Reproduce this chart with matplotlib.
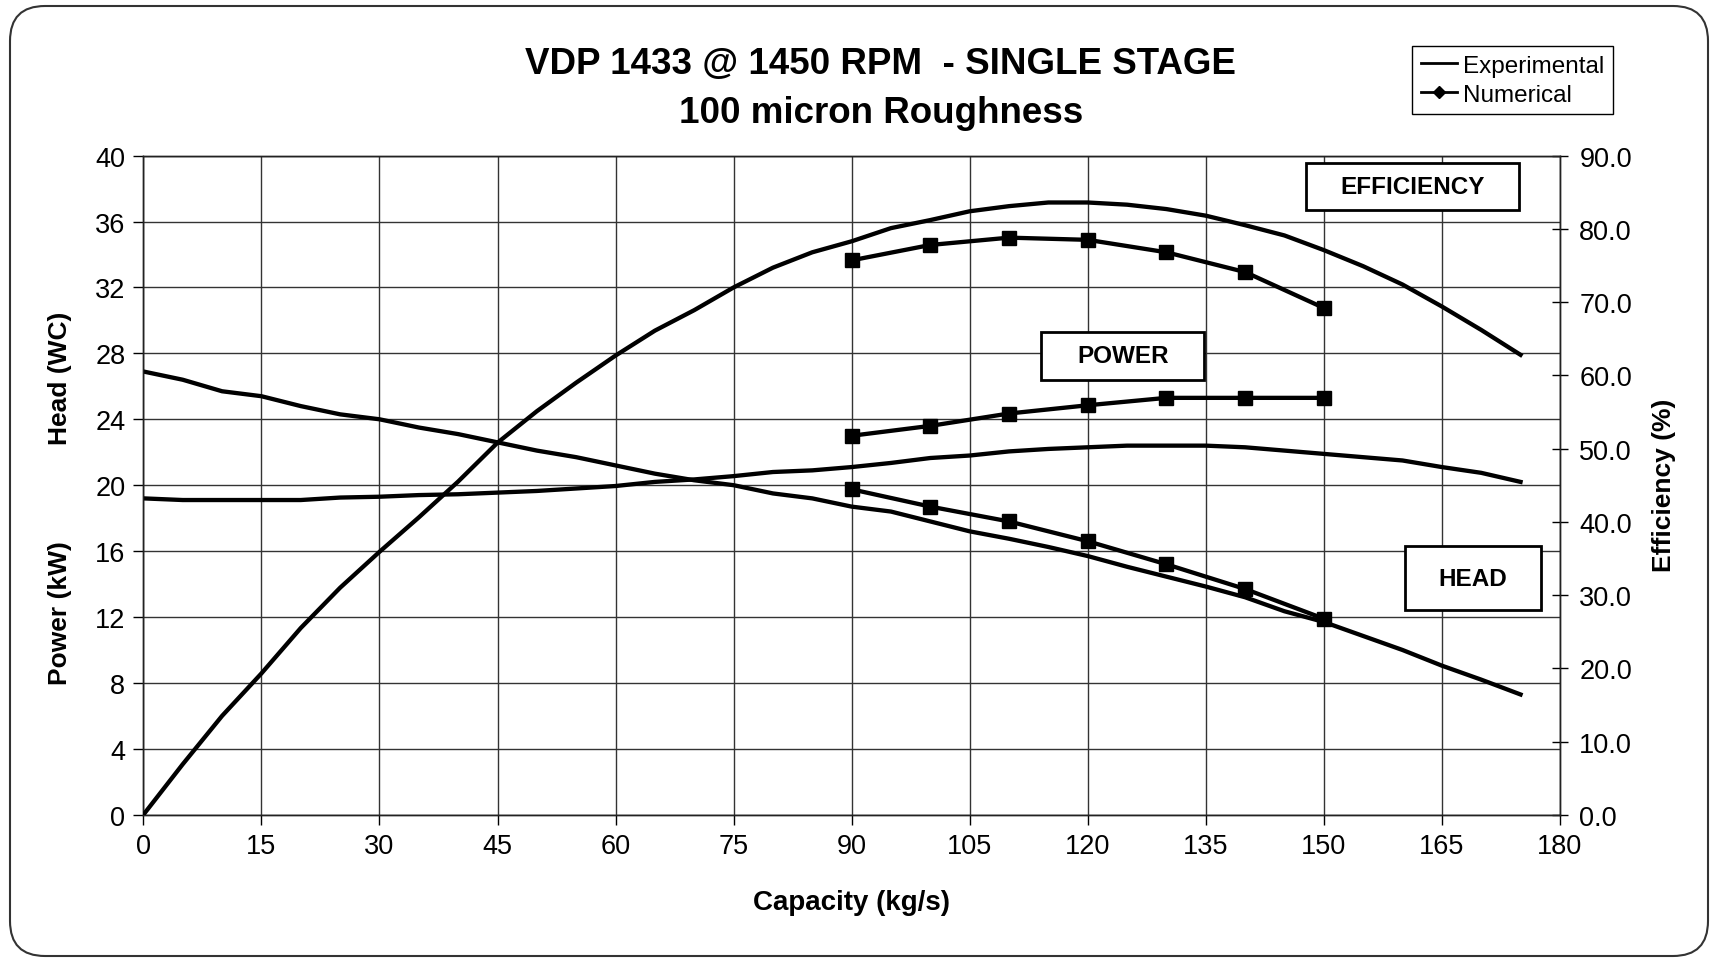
import numpy as np
import matplotlib
matplotlib.use("Agg")
import matplotlib.pyplot as plt
from matplotlib.lines import Line2D
from matplotlib.patches import Rectangle, FancyBboxPatch
from matplotlib.transforms import IdentityTransform

plt.rcParams['font.family'] = ['Liberation Sans', 'DejaVu Sans']

# === DATA ===
cap_exp = [0, 5, 10, 15, 20, 25, 30, 35, 40, 45, 50, 55, 60, 65, 70, 75, 80, 85,
           90, 95, 100, 105, 110, 115, 120, 125, 130, 135, 140, 145, 150, 155,
           160, 165, 170, 175]
head_exp = [26.9, 26.4, 25.7, 25.4, 24.8, 24.3, 24.0, 23.5, 23.1, 22.6, 22.1, 21.7,
            21.2, 20.7, 20.3, 20.0, 19.5, 19.2, 18.7, 18.4, 17.8, 17.2, 16.75, 16.25,
            15.7, 15.05, 14.45, 13.85, 13.2, 12.35, 11.7, 10.85, 10.0, 9.05, 8.2, 7.3]
power_exp = [19.2, 19.1, 19.1, 19.1, 19.1, 19.25, 19.3, 19.4, 19.45, 19.55, 19.65,
             19.8, 19.95, 20.2, 20.35, 20.55, 20.8, 20.9, 21.1, 21.35, 21.65, 21.8,
             22.05, 22.2, 22.3, 22.4, 22.4, 22.4, 22.3, 22.1, 21.9, 21.7, 21.5, 21.1,
             20.75, 20.2]
eff_exp = [0, 6.9, 13.5, 19.3, 25.5, 31.0, 35.9, 40.6, 45.5, 50.8, 55.1, 59.0, 62.7,
           66.1, 68.9, 72.0, 74.7, 76.8, 78.3, 80.1, 81.2, 82.4, 83.1, 83.6, 83.6,
           83.3, 82.7, 81.8, 80.5, 79.1, 77.1, 74.9, 72.4, 69.4, 66.2, 62.8]

cap_num = [90, 100, 110, 120, 130, 140, 150]
head_num = [19.75, 18.7, 17.8, 16.6, 15.2, 13.7, 11.9]
power_num = [23.0, 23.6, 24.35, 24.85, 25.3, 25.3, 25.3]
eff_num = [75.7, 77.8, 78.8, 78.5, 76.8, 74.1, 69.2]

# === FIGURE ===
fig = plt.figure(figsize=(17.17, 9.62), dpi=100)
ax = fig.add_axes([0.0835, 0.152, 0.825, 0.6852])
ax2 = ax.twinx()

lw = 3.1
ms = 10

ax.plot(cap_exp, head_exp, color='black', lw=lw, zorder=3)
ax.plot(cap_exp, power_exp, color='black', lw=lw, zorder=3)
ax.plot(cap_num, head_num, color='black', lw=lw, marker='s', ms=ms, zorder=3)
ax.plot(cap_num, power_num, color='black', lw=lw, marker='s', ms=ms, zorder=3)
ax2.plot(cap_exp, eff_exp, color='black', lw=lw, zorder=3)
ax2.plot(cap_num, eff_num, color='black', lw=lw, marker='s', ms=ms, zorder=3)

ax.set_xlim(0, 180)
ax.set_ylim(0, 40)
ax2.set_ylim(0, 90)
ax.set_xticks(np.arange(0, 181, 15))
ax.set_yticks(np.arange(0, 41, 4))
ax2.set_yticks(np.arange(0, 91, 10))
ax2.set_yticklabels([f"{v:.1f}" for v in np.arange(0, 91, 10)])

ax.grid(True, color='#333333', linewidth=1.0)
ax.set_axisbelow(True)
ax.tick_params(axis='both', labelsize=19.5, direction='out', length=7, width=1, pad=6)
ax2.tick_params(axis='y', labelsize=19.5, direction='inout', length=12, width=1, pad=8)
for sp in list(ax.spines.values()) + list(ax2.spines.values()):
    sp.set_color('#222222')
    sp.set_linewidth(1.0)

# labels
ax.set_xlabel("Capacity (kg/s)", fontsize=20, fontweight='bold', labelpad=22)
fig.text(0.035, 0.607, "Head (WC)", rotation=90, fontsize=19, fontweight='bold',
         ha='center', va='center')
fig.text(0.035, 0.363, "Power (kW)", rotation=90, fontsize=19, fontweight='bold',
         ha='center', va='center')
fig.text(0.969, 0.496, "Efficiency (%)", rotation=90, fontsize=19, fontweight='bold',
         ha='center', va='center')

# title
fig.text(0.513, 0.933, "VDP 1433 @ 1450 RPM  - SINGLE STAGE", fontsize=26.5,
         fontweight='bold', ha='center', va='center')
fig.text(0.513, 0.8815, "100 micron Roughness", fontsize=26.5,
         fontweight='bold', ha='center', va='center')

# curve name boxes
boxes = [("EFFICIENCY", 147.8, 36.68, 27.0, 2.85),
         ("POWER", 114.1, 26.4, 20.7, 2.9),
         ("HEAD", 160.3, 12.4, 17.3, 3.9)]
for name, bx, by, bw, bh in boxes:
    ax.add_patch(Rectangle((bx, by), bw, bh, facecolor='white', edgecolor='black',
                           linewidth=2, zorder=4))
    ax.text(bx + bw / 2, by + bh / 2, name, fontsize=17.5, fontweight='bold',
            ha='center', va='center', zorder=5)

# legend
handles = [Line2D([], [], color='black', lw=2.0),
           Line2D([], [], color='black', lw=2.0, marker='D', ms=6)]
leg = fig.legend(handles, ["Experimental", "Numerical"], loc='upper right',
                 bbox_to_anchor=(0.9394, 0.951), fontsize=17.5, frameon=True,
                 fancybox=False, edgecolor='black', framealpha=1,
                 handlelength=1.5, handletextpad=0.25, labelspacing=0.3,
                 borderpad=0.35, borderaxespad=0)
leg.get_frame().set_linewidth(1.0)

# rounded outer border
border = FancyBboxPatch((10, 5), 1698, 950, boxstyle="round,pad=0,rounding_size=35",
                        transform=IdentityTransform(), facecolor='none',
                        edgecolor='#333333', linewidth=1.5)
fig.patches.append(border)

fig.savefig("out.png", dpi=100)
